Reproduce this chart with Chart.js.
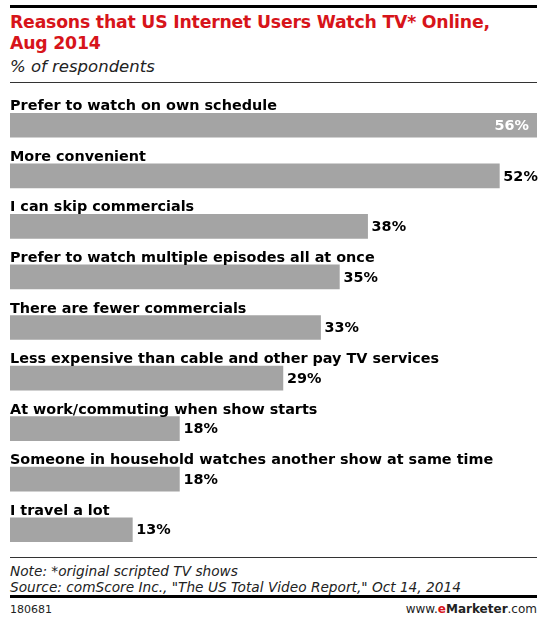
<!DOCTYPE html>
<html>
<head>
<meta charset="utf-8">
<script src="https://cdn.jsdelivr.net/npm/chart.js@4.4.1/dist/chart.umd.min.js"></script>
<style>
  body { margin: 0; background: #fff; width: 545px; height: 624px; position: relative; overflow: hidden; font-family: "DejaVu Sans", Verdana, sans-serif; }
  .abs { position: absolute; }
  #topline { left: 10px; top: 5px; width: 527px; height: 3px; background: #000; }
  #title { left: 10px; top: 12px; color: #d7141a; font-weight: bold; font-size: 17.3px; line-height: 21px; letter-spacing: -0.2px; }
  #subtitle { left: 10px; top: 57px; color: #222; font-style: italic; font-size: 16.5px; }
  #thinline { left: 10px; top: 82px; width: 527px; height: 1px; background: #333; }
  #chartwrap { left: 0; top: 88px; width: 545px; height: 467px; }
  #noteline { left: 10px; top: 557px; width: 527px; height: 1px; background: #333; }
  #note { left: 10px; top: 563px; font-style: italic; font-size: 13.7px; line-height: 16px; color: #222; }
  #botline { left: 10px; top: 595px; width: 527px; height: 3px; background: #000; }
  #code { left: 10px; top: 603px; font-size: 11px; color: #222; }
  #brand { right: 8px; top: 602px; font-size: 12px; color: #222; }
  #brand b { font-weight: bold; }
  #brand .e { color: #d7141a; font-weight: bold; }
</style>
</head>
<body>
<div class="abs" id="topline"></div>
<div class="abs" id="title">Reasons that US Internet Users Watch TV* Online,<br>Aug 2014</div>
<div class="abs" id="subtitle">% of respondents</div>
<div class="abs" id="thinline"></div>
<div class="abs" id="chartwrap"><canvas id="chart" width="545" height="467"></canvas></div>
<div class="abs" id="noteline"></div>
<div class="abs" id="note">Note: *original scripted TV shows<br>Source: comScore Inc., "The US Total Video Report," Oct 14, 2014</div>
<div class="abs" id="botline"></div>
<div class="abs" id="code">180681</div>
<div class="abs" id="brand">www.<span class="e">e</span><b>Marketer</b>.com</div>
<script>
// Chart data
const reasons = [
    "Prefer to watch on own schedule",
    "More convenient",
    "I can skip commercials",
    "Prefer to watch multiple episodes all at once",
    "There are fewer commercials",
    "Less expensive than cable and other pay TV services",
    "At work/commuting when show starts",
    "Someone in household watches another show at same time",
    "I travel a lot"
];
const shares = [56, 52, 38, 35, 33, 29, 18, 18, 13];

const labelFont = 'bold 14.4px "DejaVu Sans", Verdana, sans-serif';

// Draws the category text above each bar and the % value at its end
const barLabels = {
    id: 'barLabels',
    afterDatasetsDraw(chart) {
        const ctx = chart.ctx;
        const meta = chart.getDatasetMeta(0);
        ctx.save();
        ctx.font = labelFont;
        meta.data.forEach(function (bar, i) {
            const top = bar.y - bar.height / 2;
            ctx.fillStyle = '#000';
            ctx.textAlign = 'left';
            ctx.textBaseline = 'alphabetic';
            ctx.fillText(reasons[i], chart.chartArea.left, top - 3);

            const txt = shares[i] + '%';
            const w = ctx.measureText(txt).width;
            ctx.textBaseline = 'middle';
            if (bar.x + 4 + w > chart.width) {
                ctx.fillStyle = '#fff';
                ctx.textAlign = 'right';
                ctx.fillText(txt, bar.x - 8, bar.y + 1);
            } else {
                ctx.fillStyle = '#000';
                ctx.textAlign = 'left';
                ctx.fillText(txt, bar.x + 4, bar.y + 1);
            }
        });
        ctx.restore();
    }
};

var ctx_chart = document.getElementById('chart').getContext('2d');
var chart = new Chart(ctx_chart, {
    type: 'bar',
    data: {
        labels: reasons,
        datasets: [{
            data: shares,
            backgroundColor: '#a4a4a4',
            borderWidth: 0,
            barThickness: 24
        }]
    },
    options: {
        indexAxis: 'y',
        responsive: false,
        animation: false,
        maintainAspectRatio: false,
        layout: { padding: { left: 10, right: 8, top: 12, bottom: 0 } },
        plugins: { legend: { display: false }, tooltip: { enabled: false }, title: { display: false } },
        scales: {
            x: { display: false, min: 0, max: 56 },
            y: { display: false }
        }
    },
    plugins: [barLabels]
});
</script>
</body>
</html>
